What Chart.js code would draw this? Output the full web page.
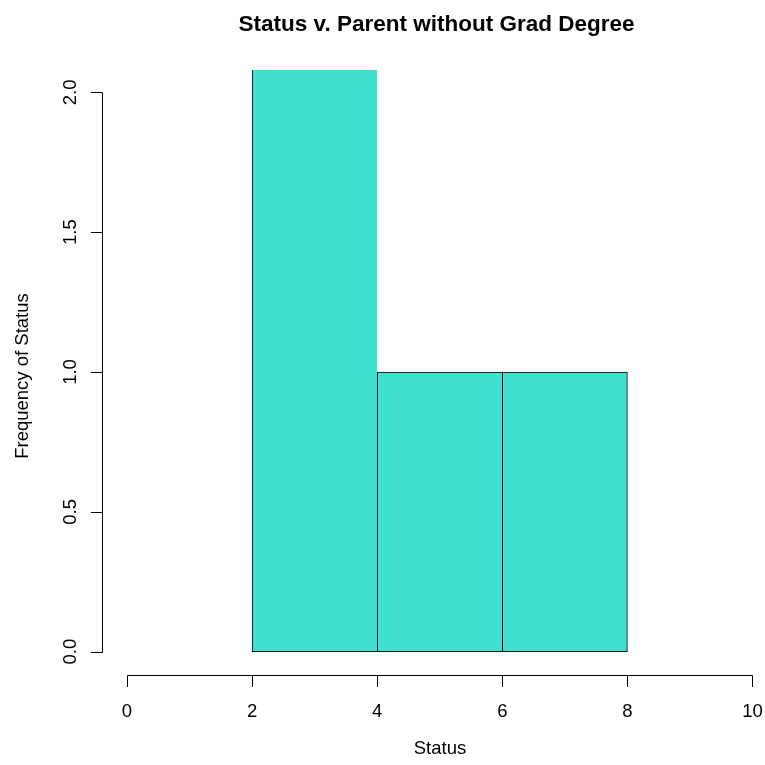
<!DOCTYPE html>
<html>
<head>
<meta charset="utf-8">
<script src="https://cdn.jsdelivr.net/npm/chart.js@4/dist/chart.umd.min.js"></script>
<style>
  html, body { margin: 0; padding: 0; background: #fff; }
  #wrap { width: 765px; height: 765px; }
</style>
</head>
<body>
<div id="wrap"><canvas id="myChart" width="765" height="765"></canvas></div>
<script>
// histogram bins (Status) and counts; first bin runs past the top of the plot
var binStarts = [2, 4, 6];
var binEnds = [4, 6, 8];
var counts = [3, 1, 1];
var xTicks = [0, 2, 4, 6, 8, 10];
var yTicks = [0, 0.5, 1, 1.5, 2];
var yTickLabels = ['0.0', '0.5', '1.0', '1.5', '2.0'];

var titleText = 'Status v. Parent without Grad Degree';
var xTitle = 'Status';
var yTitle = 'Frequency of Status';
var font = '"Liberation Sans", Arial, Helvetica, sans-serif';

var barData = binStarts.map(function(s, i) {
  return { x: (s + binEnds[i]) / 2, y: counts[i] };
});

// R style axes, drawn off the plot region
var rAxes = {
  id: 'rAxes',
  afterDraw: function(chart) {
    var ctx = chart.ctx;
    var xs = chart.scales.x, ys = chart.scales.y;
    var area = chart.chartArea;
    ctx.save();
    ctx.strokeStyle = '#000';
    ctx.fillStyle = '#000';
    ctx.lineWidth = 1;

    // x axis
    var ax = area.bottom + 1;
    ctx.beginPath();
    ctx.moveTo(Math.round(xs.getPixelForValue(xTicks[0])) + 0.5, ax + 0.5);
    ctx.lineTo(Math.round(xs.getPixelForValue(xTicks[xTicks.length - 1])) + 0.5, ax + 0.5);
    xTicks.forEach(function(t) {
      var px = Math.round(xs.getPixelForValue(t)) + 0.5;
      ctx.moveTo(px, ax + 0.5);
      ctx.lineTo(px, ax + 12);
    });
    ctx.stroke();
    ctx.font = '18.5px ' + font;
    ctx.textAlign = 'center';
    ctx.textBaseline = 'alphabetic';
    xTicks.forEach(function(t) {
      ctx.fillText(String(t), xs.getPixelForValue(t), 717);
    });

    // y axis
    var ay = area.left;
    ctx.beginPath();
    ctx.moveTo(ay + 0.5, Math.round(ys.getPixelForValue(yTicks[0])) + 0.5);
    ctx.lineTo(ay + 0.5, Math.round(ys.getPixelForValue(yTicks[yTicks.length - 1])) + 0.5);
    yTicks.forEach(function(t) {
      var py = Math.round(ys.getPixelForValue(t)) + 0.5;
      ctx.moveTo(ay + 0.5, py);
      ctx.lineTo(ay - 11, py);
    });
    ctx.stroke();
    yTicks.forEach(function(t, i) {
      ctx.save();
      ctx.translate(76, ys.getPixelForValue(t));
      ctx.rotate(-Math.PI / 2);
      ctx.fillText(yTickLabels[i], 0, 0);
      ctx.restore();
    });

    // titles
    ctx.fillText(xTitle, 440, 754);
    ctx.save();
    ctx.translate(28, 376);
    ctx.rotate(-Math.PI / 2);
    ctx.fillText(yTitle, 0, 0);
    ctx.restore();
    ctx.font = 'bold 22.5px ' + font;
    ctx.fillText(titleText, 436.5, 31);
    ctx.restore();
  }
};

var myChart = new Chart(document.getElementById('myChart').getContext('2d'), {
  type: 'bar',
  data: {
    datasets: [{
      data: barData,
      backgroundColor: '#40E0D0',
      borderColor: '#000',
      borderSkipped: false,
      borderWidth: function(c) {
        return c.dataIndex < counts.length - 1 ? { top: 1, left: 1, bottom: 1, right: 0 } : 1;
      },
      barPercentage: 1,
      categoryPercentage: 1
    }]
  },
  options: {
    responsive: false,
    animation: false,
    layout: { padding: { left: 102, right: 0, top: 70, bottom: 91 } },
    plugins: { legend: { display: false }, tooltip: { enabled: false }, title: { display: false } },
    scales: {
      x: { type: 'linear', min: -0.4, max: 10.2, display: false, offset: false },
      y: { min: -0.08, max: 2.08, display: false }
    }
  },
  plugins: [rAxes]
});
</script>
</body>
</html>
